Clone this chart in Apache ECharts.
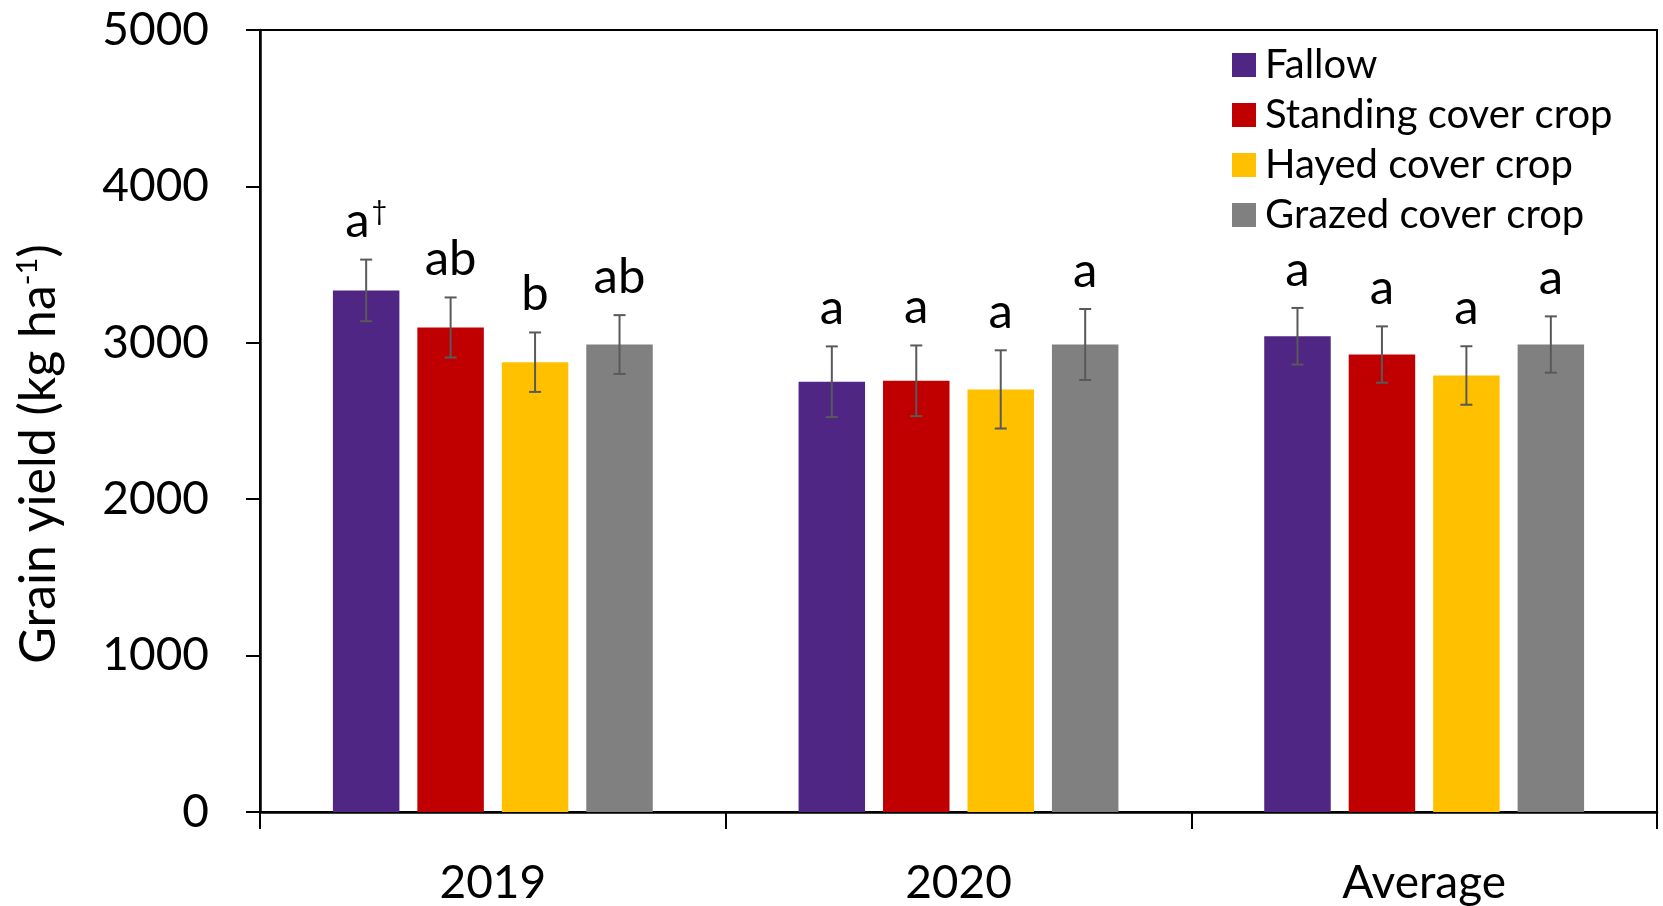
<!DOCTYPE html>
<html>
<head>
<meta charset="utf-8">
<title>Grain yield by cover crop management</title>
<script src="https://cdn.jsdelivr.net/npm/echarts@6/dist/echarts.min.js"></script>
<style>
  html, body { margin: 0; padding: 0; background: #ffffff; }
  #chart { width: 1663px; height: 906px; }
</style>
</head>
<body>
<div id="chart"></div>
<script>
// Grain yield (kg/ha) per year and the two-year average
const categories = ['2019', '2020', 'Average'];
const treatments = ['Fallow', 'Standing cover crop', 'Hayed cover crop', 'Grazed cover crop'];
const colors = ['#4F2683', '#C00000', '#FFC000', '#808080'];

const fallow   = [3335, 2751, 3042];
const standing = [3098, 2757, 2925];
const hayed    = [2876, 2702, 2791];
const grazed   = [2989, 2989, 2989];

// standard errors
const fallowErr   = [197, 226, 181];
const standingErr = [192, 226, 180];
const hayedErr    = [190, 250, 187];
const grazedErr   = [188, 227, 180];

// mean separation letters (within each year)
const fallowLetters   = ['a\u2020', 'a', 'a'];
const standingLetters = ['ab', 'a', 'a'];
const hayedLetters    = ['b', 'a', 'a'];
const grazedLetters   = ['ab', 'a', 'a'];

const yTicks = [0, 1000, 2000, 3000, 4000, 5000];

const values  = [fallow, standing, hayed, grazed];
const errors  = [fallowErr, standingErr, hayedErr, grazedErr];
const letters = [fallowLetters, standingLetters, hayedLetters, grazedLetters];

const FONT = 'Lato';
const BAR_W = 66.5;
const BAR_GAP = 0.27;
const PITCH = BAR_W * (1 + BAR_GAP);

function letterText(s) {
  return s.indexOf('\u2020') >= 0 ? '{m|' + s.replace('\u2020', '') + '}{s|\u2020}' : '{m|' + s + '}';
}

const barSeries = treatments.map((name, i) => ({
  name: name,
  type: 'bar',
  data: values[i],
  barWidth: BAR_W,
  barGap: (BAR_GAP * 100) + '%',
  itemStyle: { color: colors[i] },
  z: 2
}));

const errSeries = treatments.map((name, i) => ({
  name: name + ' SE',
  type: 'custom',
  coordinateSystem: 'cartesian2d',
  z: 5,
  silent: true,
  data: categories.map((c, j) => [j, values[i][j], errors[i][j]]),
  encode: { x: 0, y: 1 },
  renderItem: function (params, api) {
    const j = api.value(0);
    const v = api.value(1);
    const e = api.value(2);
    const x = api.coord([j, 0])[0] + (i - 1.5) * PITCH;
    const yHi = api.coord([j, v + e])[1];
    const yLo = api.coord([j, v - e])[1];
    const cap = 6;
    const st = { stroke: '#595959', lineWidth: 2 };
    return {
      type: 'group',
      children: [
        { type: 'line', shape: { x1: x, y1: yHi, x2: x, y2: yLo }, style: st },
        { type: 'line', shape: { x1: x - cap, y1: yHi, x2: x + cap, y2: yHi }, style: st },
        { type: 'line', shape: { x1: x - cap, y1: yLo, x2: x + cap, y2: yLo }, style: st },
        {
          type: 'text',
          x: x,
          y: yHi - 14,
          style: {
            text: letterText(letters[i][params.dataIndex]),
            align: 'center',
            verticalAlign: 'bottom',
            rich: {
              m: { fontFamily: FONT, fontSize: 49, lineHeight: 48, fill: '#000' },
              s: { fontFamily: FONT, fontSize: 27, lineHeight: 48, fill: '#000', verticalAlign: 'top', padding: [0, 0, 20, 2] }
            }
          }
        }
      ]
    };
  }
}));

const chart = echarts.init(document.getElementById('chart'), null, { renderer: 'canvas' });
chart.setOption({
  animation: false,
  backgroundColor: '#ffffff',
  grid: {
    left: 260, right: 6, top: 30, bottom: 92,
    show: true, borderColor: '#000000', borderWidth: 2, backgroundColor: 'transparent'
  },
  legend: {
    data: treatments,
    orient: 'vertical',
    left: 1227,
    top: 40,
    icon: 'rect',
    itemWidth: 24,
    itemHeight: 24,
    itemGap: 10,
    selectedMode: false,
    textStyle: { fontFamily: FONT, fontSize: 40, lineHeight: 40, color: '#000', padding: [0, 0, 0, 4] }
  },
  xAxis: {
    type: 'category',
    data: categories,
    axisLine: { lineStyle: { color: '#000', width: 2.5 } },
    axisTick: { show: true, length: 17, lineStyle: { color: '#000', width: 2 } },
    axisLabel: { fontFamily: FONT, fontSize: 46, color: '#000', margin: 48 },
    splitLine: { show: false }
  },
  yAxis: {
    type: 'value',
    min: yTicks[0],
    max: yTicks[yTicks.length - 1],
    interval: yTicks[1] - yTicks[0],
    axisLine: { show: true, lineStyle: { color: '#000', width: 2.5 } },
    axisTick: { show: true, length: 14, lineStyle: { color: '#000', width: 2 } },
    axisLabel: {
      fontFamily: FONT, fontSize: 46, color: '#000', margin: 51,
      formatter: function (v) { return String(v); }
    },
    splitLine: { show: false },
    name: '{n|Grain yield (kg ha}{s|-1}{n|)}',
    nameLocation: 'middle',
    nameRotate: 90,
    nameGap: 195,
    nameTextStyle: {
      padding: [0, 66, 0, 0],
      rich: {
        n: { fontFamily: FONT, fontSize: 50, lineHeight: 52, color: '#000' },
        s: { fontFamily: FONT, fontSize: 29, lineHeight: 52, color: '#000', verticalAlign: 'top', padding: [0, 0, 22, 0] }
      }
    }
  },
  series: barSeries.concat(errSeries)
});
</script>
</body>
</html>
